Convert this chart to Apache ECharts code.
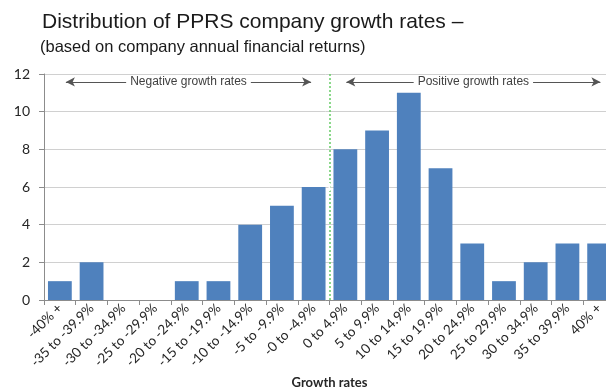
<!DOCTYPE html>
<html>
<head>
<meta charset="utf-8">
<script src="https://cdn.jsdelivr.net/npm/echarts@6/dist/echarts.min.js"></script>
<style>
  html, body { margin: 0; padding: 0; background: #ffffff; }
  #chart { width: 606px; height: 387px; }
</style>
</head>
<body>
<div id="chart"></div>
<script>
// Growth-rate bands (company annual financial returns)
const categories = [
  '-40% +', '-35 to -39.9%', '-30 to -34.9%', '-25 to -29.9%', '-20 to -24.9%',
  '-15 to -19.9%', '-10 to -14.9%', '-5 to -9.9%', '-0 to -4.9%',
  '0 to 4.9%', '5 to 9.9%', '10 to 14.9%', '15 to 19.9%', '20 to 24.9%',
  '25 to 29.9%', '30 to 34.9%', '35 to 39.9%', '40% +'
];
// Number of companies in each band
const companies = [1, 2, 0, 0, 1, 1, 4, 5, 6, 8, 9, 11, 7, 3, 1, 2, 3, 3];
// Y axis ticks
const yMin = 0, yMax = 12, yStep = 2;

// Band-index positions used for the annotation overlay
const zeroBoundary = 9;              // between "-0 to -4.9%" and "0 to 4.9%"
const arrowLevel = 11.58;
const negativeSpan = [0.69, 8.42];
const positiveSpan = [9.53, 17.54];

const chart = echarts.init(document.getElementById('chart'), null, { renderer: 'canvas' });

const labelFont = 'Lato, "Open Sans", "Liberation Sans", sans-serif';
const axisGray = '#8c8c8c';

chart.setOption({
  animation: false,
  title: [
    {
      text: 'Distribution of PPRS company growth rates \u2013',
      left: 37, top: 7,
      textStyle: { fontFamily: '"Liberation Sans", Arial, sans-serif', fontSize: 21, fontWeight: 'normal', color: '#1a1a1a' }
    },
    {
      text: '(based on company annual financial returns)',
      left: 35, top: 34,
      textStyle: { fontFamily: '"Liberation Sans", Arial, sans-serif', fontSize: 16.5, fontWeight: 'normal', color: '#1a1a1a' }
    }
  ],
  // the plot runs slightly past the right edge of the canvas
  grid: { left: 44, top: 74, width: 571, height: 226, containLabel: false, outerBoundsMode: 'none' },
  xAxis: [
    {
      type: 'category',
      data: categories,
      boundaryGap: true,
      name: 'Growth rates',
      nameLocation: 'middle',
      nameGap: 75,
      nameTextStyle: { fontFamily: labelFont, fontSize: 13, fontWeight: 'bold', color: '#262626' },
      axisLine: { lineStyle: { color: axisGray, width: 1 } },
      axisTick: { show: true, alignWithLabel: false, length: 5, lineStyle: { color: axisGray } },
      axisLabel: {
        rotate: 45, interval: 0, margin: 6,
        fontFamily: labelFont, fontSize: 13.5, color: '#262626'
      },
      splitLine: { show: false }
    },
    {
      // hidden linear axis spanning the same width, for the overlay annotations
      type: 'value', min: 0, max: categories.length, show: false, position: 'bottom'
    }
  ],
  yAxis: {
    type: 'value',
    min: yMin, max: yMax, interval: yStep,
    axisLine: { show: true, lineStyle: { color: axisGray, width: 1 } },
    axisTick: { show: true, length: 5, lineStyle: { color: axisGray } },
    axisLabel: { fontFamily: labelFont, fontSize: 14, color: '#262626', margin: 14 },
    splitLine: { show: true, lineStyle: { color: '#d0d0d0', width: 1 } }
  },
  series: [
    {
      type: 'bar',
      data: companies,
      barCategoryGap: '25%',
      itemStyle: { color: '#4f81bd' },
      z: 2
    },
    {
      // annotation overlay: zero boundary and growth-direction arrows
      type: 'line',
      xAxisIndex: 1,
      data: [],
      silent: true,
      z: 5,
      markLine: {
        silent: true,
        animation: false,
        symbolSize: [7, 9],
        data: [
          [
            { coord: [zeroBoundary, yMin], symbol: 'none' },
            { coord: [zeroBoundary, yMax], symbol: 'none',
              lineStyle: { color: '#66cc66', type: [2, 2], width: 1.5 } }
          ],
          [
            { name: 'Negative growth rates', coord: [negativeSpan[0], arrowLevel], symbol: 'arrow' },
            { coord: [negativeSpan[1], arrowLevel], symbol: 'arrow' }
          ],
          [
            { name: 'Positive growth rates', coord: [positiveSpan[0], arrowLevel], symbol: 'arrow' },
            { coord: [positiveSpan[1], arrowLevel], symbol: 'arrow' }
          ]
        ],
        lineStyle: { color: '#555555', type: 'solid', width: 1 },
        label: {
          show: true,
          position: 'insideMiddle',
          distance: 0,
          formatter: p => p.name || '',
          fontFamily: '"Liberation Sans", Arial, sans-serif',
          fontSize: 12,
          color: '#404040',
          backgroundColor: '#ffffff',
          padding: [1, 4]
        }
      }
    }
  ]
});
</script>
</body>
</html>
